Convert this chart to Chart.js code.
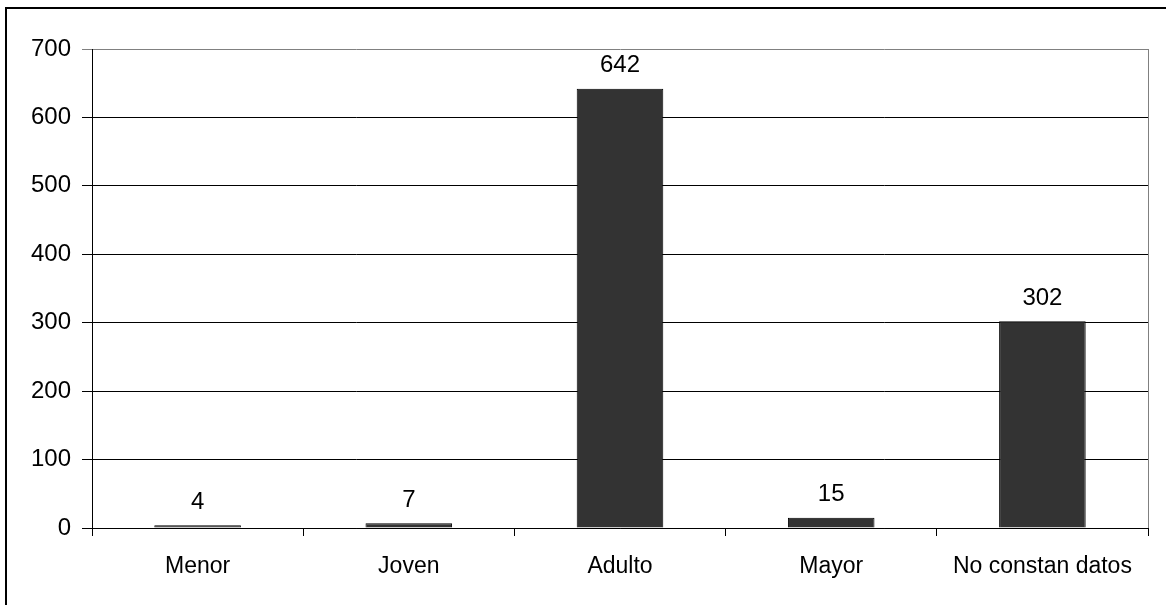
<!DOCTYPE html>
<html>
<head>
<meta charset="utf-8">
<script src="https://cdn.jsdelivr.net/npm/chart.js@4/dist/chart.umd.min.js"></script>
<style>
  html, body { margin: 0; padding: 0; background: #fff; }
  #wrap { position: relative; width: 1166px; height: 605px; overflow: hidden; }
  #frame { position: absolute; left: 5px; top: 7px; width: 1200px; height: 700px;
           border-left: 2px solid #000; border-top: 2px solid #000; }
  canvas { position: absolute; left: 0; top: 0; }
</style>
</head>
<body>
<div id="wrap">
  <div id="frame"></div>
  <canvas id="chart" width="1166" height="605"></canvas>
</div>
<script>
const categories = ["Menor", "Joven", "Adulto", "Mayor", "No constan datos"];
const counts = [4, 7, 642, 15, 302];
const yTicks = [0, 100, 200, 300, 400, 500, 600, 700];

Chart.defaults.font.family = "'Liberation Sans', Arial, sans-serif";
Chart.defaults.font.size = 23;
Chart.defaults.color = "#000";

// value labels above bars + grey right edge of plot area
const extras = {
    id: "extras",
    afterDatasetsDraw(chart) {
        const ctx = chart.ctx;
        const area = chart.chartArea;
        ctx.save();
        ctx.strokeStyle = "#808080";
        ctx.lineWidth = 1;
        ctx.beginPath();
        ctx.moveTo(area.right + 0.5, area.top);
        ctx.lineTo(area.right + 0.5, area.bottom);
        ctx.stroke();

        ctx.fillStyle = "#000";
        ctx.font = "24px 'Liberation Sans', Arial, sans-serif";
        ctx.textAlign = "center";
        ctx.textBaseline = "middle";
        chart.getDatasetMeta(0).data.forEach((bar, i) => {
            ctx.fillText(String(counts[i]), bar.x, bar.y - 23);
        });
        ctx.restore();
    }
};

new Chart(document.getElementById("chart"), {
    type: "bar",
    data: {
        labels: categories,
        datasets: [{
            data: counts,
            backgroundColor: "#333333",
            borderColor: "#000",
            borderWidth: 1,
            categoryPercentage: 1,
            barPercentage: 0.41
        }]
    },
    options: {
        responsive: false,
        animation: false,
        layout: { padding: { top: 49, right: 18, left: 0, bottom: 0 } },
        plugins: { legend: { display: false }, tooltip: { enabled: false } },
        scales: {
            x: {
                afterFit: s => { s.height = 77; },
                grid: { offset: true, drawOnChartArea: false, tickLength: 8, color: "#000" },
                border: { color: "#000", width: 1 },
                ticks: { padding: 17, maxRotation: 0, font: { size: 23 } }
            },
            y: {
                min: 0,
                max: 700,
                afterFit: s => { s.width = 92; },
                afterBuildTicks: s => { s.ticks = yTicks.map(v => ({ value: v })); },
                grid: {
                    tickLength: 10,
                    color: c => (c.tick && c.tick.value === 700 ? "#808080" : "#000")
                },
                border: { color: "#000", width: 1 },
                ticks: { padding: 11, font: { size: 24 } }
            }
        }
    },
    plugins: [extras]
});
</script>
</body>
</html>
